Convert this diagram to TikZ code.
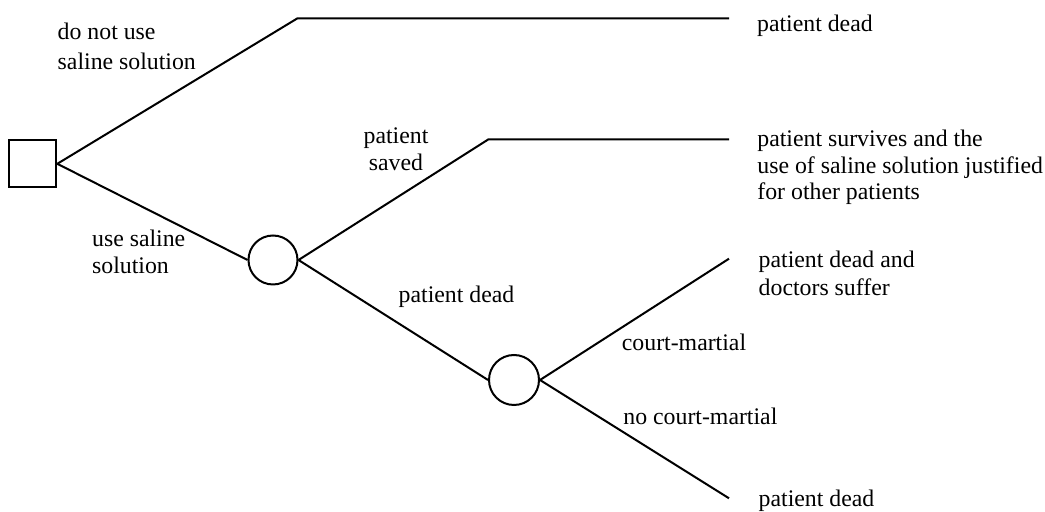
\documentclass[tikz,border=0pt]{standalone}
\usepackage{fontspec}
\setmainfont{Liberation Serif}
\begin{document}
\begin{tikzpicture}[x=0.5pt,y=-0.5pt,
  branch/.style={line width=1pt},
  decision/.style={draw,line width=1pt,rectangle,minimum size=23.5pt,inner sep=0pt},
  chance/.style={draw,line width=1pt,circle,minimum size=24.5pt,inner sep=0pt},
  lbl/.style={inner sep=0pt,anchor=base west,align=left,font=\fontsize{11.9}{13.35}\selectfont}]
\useasboundingbox (0,0) rectangle (1045,512);

% decision and chance nodes
\node[decision] (d) at (32.8,163.8) {};
\node[chance] (c1) at (273,260) {};
\node[chance,minimum size=25pt] (c2) at (514,380) {};

% corner and end points of the branches
\coordinate (k1) at (297.5,18.3);
\coordinate (e1) at (729,18.3);
\coordinate (k2) at (488.5,139.3);
\coordinate (e2) at (729,139.3);
\coordinate (e3) at (729,258.7);
\coordinate (e4) at (729,498.3);

% branches
\draw[branch] (d.east) -- (k1) -- (e1);
\draw[branch] (d.east) -- (c1.west);
\draw[branch] (c1.east) -- (k2) -- (e2);
\draw[branch] (c1.east) -- (c2.west);
\draw[branch] (c2.east) -- (e3);
\draw[branch] (c2.east) -- (e4);

% branch labels (multi-line labels are placed by their last baseline)
\node[lbl,font=\fontsize{11.9}{15}\selectfont] (l1) at (57.3,70) {do not use\\saline solution};
\node[lbl,font=\fontsize{11.9}{13.65}\selectfont] (l2) at (91.7,274) {use saline\\solution};
\node[lbl,anchor=base,align=center] (l3) at (396,170.3) {patient\\saved};
\node[lbl] (l4) at (398.3,302.7) {patient dead};
\node[lbl] (l5) at (621.5,350.7) {court-martial};
\node[lbl] (l6) at (623,425) {no court-martial};

% outcomes
\node[lbl] (o1) at (756.7,31.7) {patient dead};
\node[lbl] (o2) at (757,200) {patient survives and the\\use of saline solution justified\\for other patients};
\node[lbl,font=\fontsize{11.9}{14.35}\selectfont] (o3) at (758.3,296) {patient dead and\\doctors suffer};
\node[lbl] (o4) at (758.3,506.7) {patient dead};
\end{tikzpicture}
\end{document}
